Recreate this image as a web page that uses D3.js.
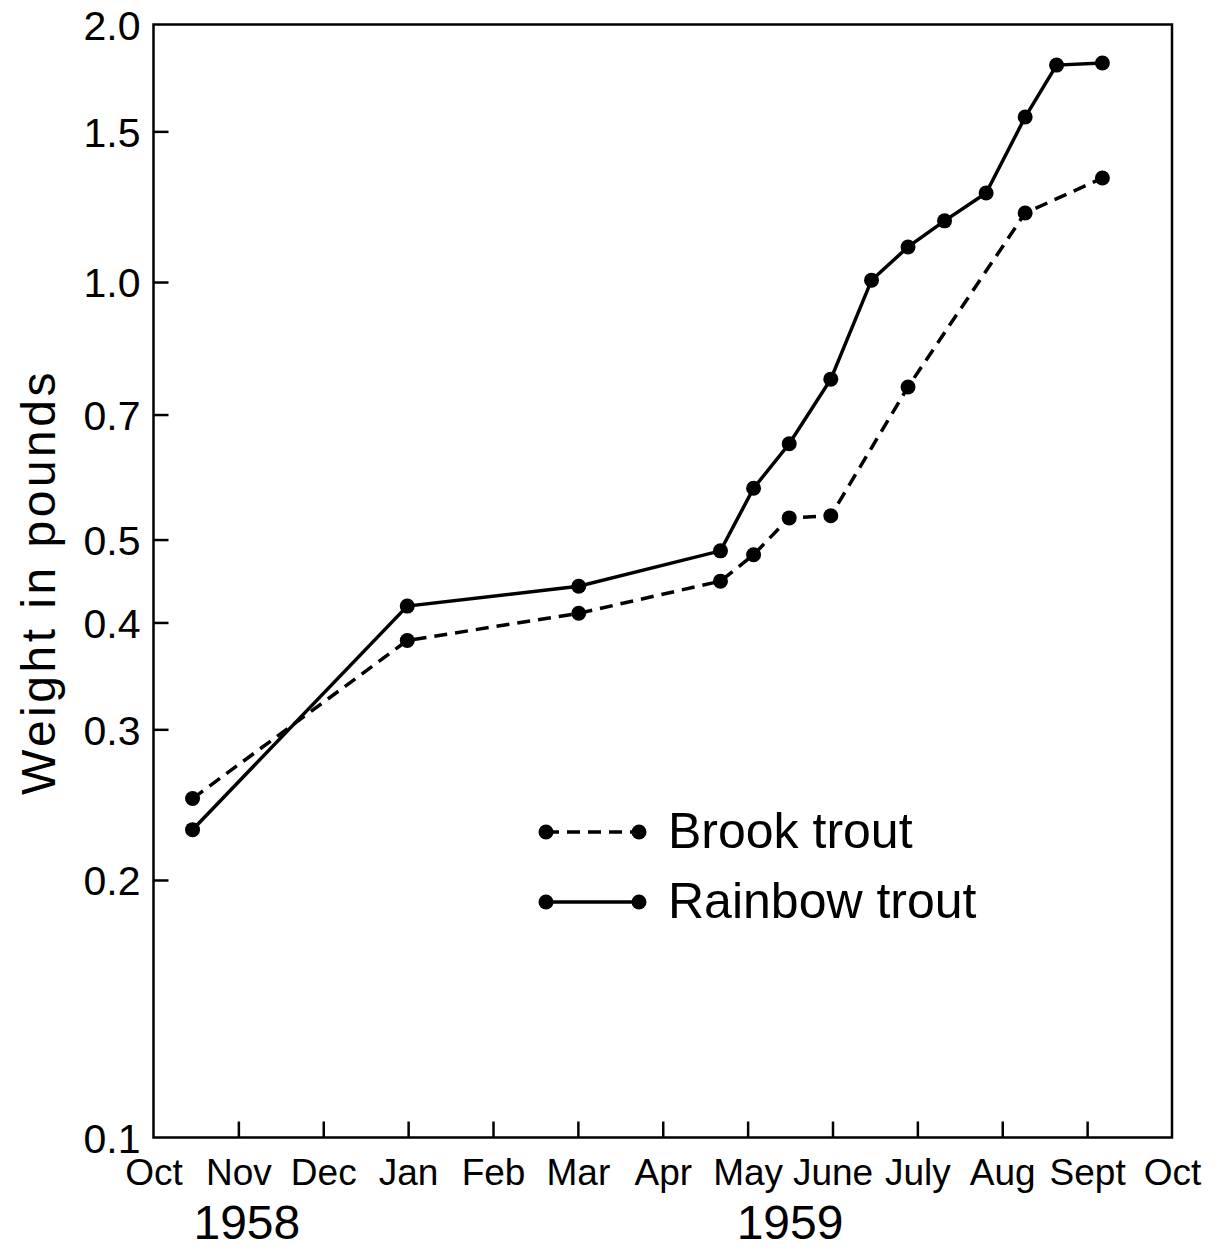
<!DOCTYPE html>
<html>
<head>
<meta charset="utf-8">
<script src="https://cdn.jsdelivr.net/npm/d3@7"></script>
<style>
  html, body { margin: 0; padding: 0; background: #fff; }
  svg { display: block; }
  text { font-family: "Liberation Sans", Arial, sans-serif; fill: #000; }
</style>
</head>
<body>
<svg id="chart" width="1217" height="1251"></svg>
<script>
// ---- Data (x = months after 1 Oct 1958, y = weight in pounds) ----
const monthLabels = ["Oct","Nov","Dec","Jan","Feb","Mar","Apr","May","June","July","Aug","Sept","Oct"];
const yearLabels = [{label: "1958", month: 1.1}, {label: "1959", month: 7.5}];
const yTickLabels = [0.1, 0.2, 0.3, 0.4, 0.5, 0.7, 1.0, 1.5, 2.0];
const yInnerTicks = [0.2, 0.3, 0.4, 0.5, 0.7, 1.0, 1.5];

const brookMonths  = [0.46, 2.99, 5.01, 6.68, 7.07, 7.49, 7.98, 8.89, 10.27, 11.18];
const brookWeights = [0.249, 0.381, 0.410, 0.447, 0.480, 0.530, 0.533, 0.754, 1.204, 1.323];

const rainbowMonths  = [0.46, 2.99, 5.01, 6.68, 7.07, 7.49, 7.98, 8.46, 8.89, 9.32, 9.81, 10.27, 10.64, 11.18];
const rainbowWeights = [0.229, 0.418, 0.441, 0.485, 0.574, 0.647, 0.770, 1.005, 1.099, 1.179, 1.271, 1.559, 1.793, 1.803];

const seriesNames = ["Brook trout", "Rainbow trout"];

// ---- Layout ----
const svg = d3.select("#chart");
const plotL = 153.5, plotR = 1172, plotT = 24.5, plotB = 1137.5;

const x = d3.scaleLinear().domain([0, 12]).range([plotL, plotR]);
const y = d3.scaleLog().domain([0.1, 2.0]).range([plotB, plotT]);

// Frame
svg.append("rect")
  .attr("x", plotL).attr("y", plotT)
  .attr("width", plotR - plotL).attr("height", plotB - plotT)
  .attr("fill", "none").attr("stroke", "#000").attr("stroke-width", 2.5);

// Y labels
const yLab = svg.append("g").attr("transform", `translate(${plotL},0)`)
  .call(d3.axisLeft(y).tickValues(yTickLabels).tickSize(0).tickPadding(13)
        .tickFormat(d3.format(".1f")));
yLab.select(".domain").remove();
yLab.selectAll("text").style("font-size", "41px").attr("dy", "0.36em")
  .style("font-family", '"Liberation Sans", Arial, sans-serif');

// Y inward ticks
const yTk = svg.append("g").attr("transform", `translate(${plotL},0)`)
  .call(d3.axisLeft(y).tickValues(yInnerTicks).tickSize(-15).tickFormat(""));
yTk.select(".domain").remove();
yTk.selectAll("line").attr("stroke", "#000").attr("stroke-width", 2.5);

// X labels
const xLab = svg.append("g").attr("transform", `translate(0,${plotB})`)
  .call(d3.axisBottom(x).tickValues(d3.range(0, 13)).tickSize(0)
        .tickFormat(i => monthLabels[i]));
xLab.select(".domain").remove();
xLab.selectAll("text").style("font-size", "37px").attr("y", 47).attr("dy", 0)
  .style("font-family", '"Liberation Sans", Arial, sans-serif');

// X inward ticks
const xTk = svg.append("g").attr("transform", `translate(0,${plotB})`)
  .call(d3.axisBottom(x).tickValues(d3.range(1, 12)).tickSize(-16).tickFormat(""));
xTk.select(".domain").remove();
xTk.selectAll("line").attr("stroke", "#000").attr("stroke-width", 2.5);

// Year labels
svg.selectAll(".year").data(yearLabels).enter().append("text")
  .attr("class", "year")
  .attr("x", d => x(d.month)).attr("y", 1239)
  .attr("text-anchor", "middle")
  .style("font-size", "48px")
  .text(d => d.label);

// Y title
svg.append("text")
  .attr("transform", "translate(55,582) rotate(-90)")
  .attr("text-anchor", "middle")
  .style("font-size", "48px")
  .style("letter-spacing", "3.5px")
  .text("Weight in pounds");

// Series
const line = d3.line().x(d => x(d[0])).y(d => y(d[1]));
const brook = brookMonths.map((m, i) => [m, brookWeights[i]]);
const rainbow = rainbowMonths.map((m, i) => [m, rainbowWeights[i]]);

svg.append("path").datum(brook).attr("d", line)
  .attr("fill", "none").attr("stroke", "#000").attr("stroke-width", 3.5)
  .attr("stroke-dasharray", "13,8");
svg.append("path").datum(rainbow).attr("d", line)
  .attr("fill", "none").attr("stroke", "#000").attr("stroke-width", 3.5);

svg.selectAll(".bdot").data(brook).enter().append("circle")
  .attr("cx", d => x(d[0])).attr("cy", d => y(d[1])).attr("r", 7.5).attr("fill", "#000");
svg.selectAll(".rdot").data(rainbow).enter().append("circle")
  .attr("cx", d => x(d[0])).attr("cy", d => y(d[1])).attr("r", 7.5).attr("fill", "#000");

// Legend
const legend = [
  {name: seriesNames[0], dash: "13,8", ly: 832, ty: 848},
  {name: seriesNames[1], dash: null, ly: 902, ty: 918}
];
legend.forEach(l => {
  svg.append("line").attr("x1", 546).attr("x2", 639).attr("y1", l.ly).attr("y2", l.ly)
    .attr("stroke", "#000").attr("stroke-width", 3.5)
    .attr("stroke-dasharray", l.dash);
  [546, 639].forEach(cx => svg.append("circle").attr("cx", cx).attr("cy", l.ly).attr("r", 7.5).attr("fill", "#000"));
  svg.append("text").attr("x", 668).attr("y", l.ty).style("font-size", "50px").text(l.name);
});
</script>
</body>
</html>
